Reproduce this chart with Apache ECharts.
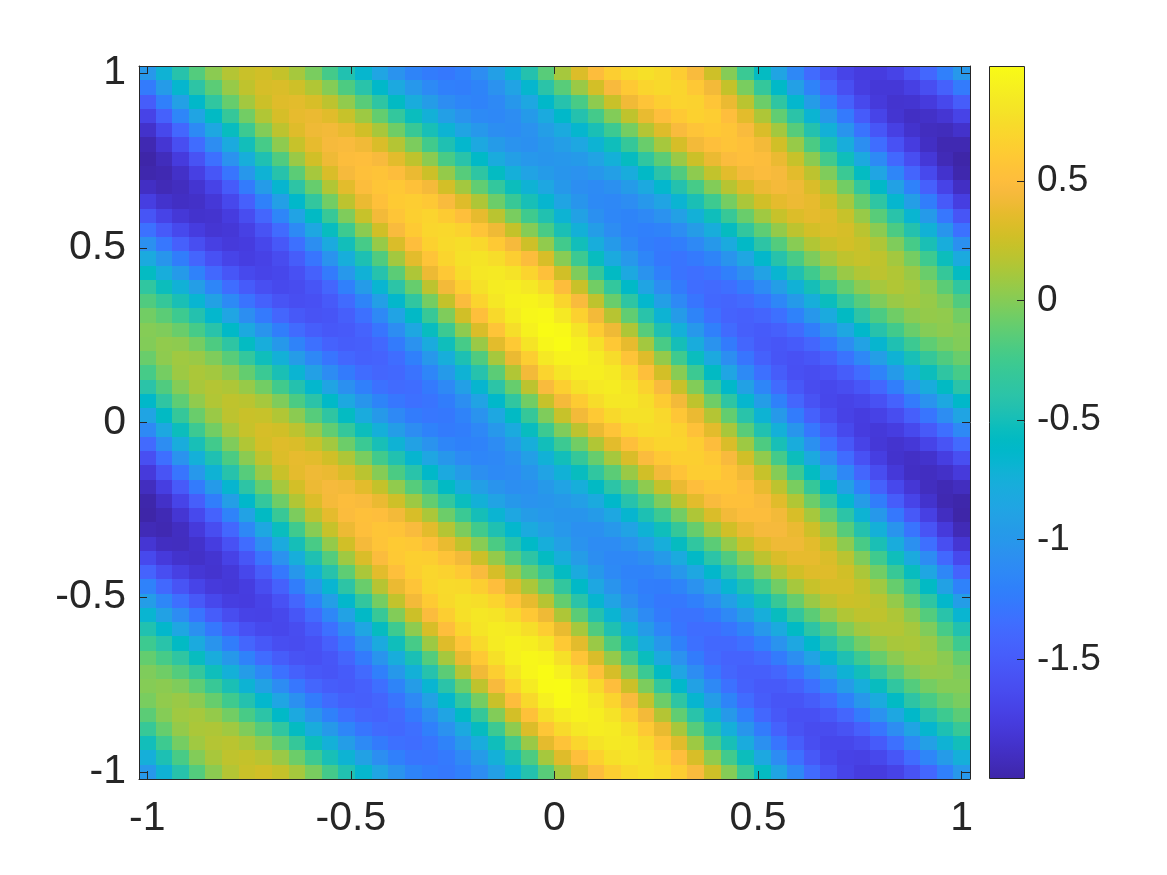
<!DOCTYPE html>
<html>
<head>
<meta charset="utf-8">
<title>heatmap</title>
<script src="https://cdn.jsdelivr.net/npm/echarts@6/dist/echarts.min.js"></script>
<style>
	html, body { margin: 0; padding: 0; background: #fff; }
	#chart { width: 1167px; height: 875px; }
</style>
</head>
<body>
<div id="chart"></div>
<script>
const xCenters = [-1,-.9592,-.9184,-.8776,-.8367,-.7959,-.7551,-.7143,-.6735,-.6327,-.5918,-.551,-.5102,-.4694,-.4286,-.3878,-.3469,-.3061,-.2653,-.2245,-.1837,-.1429,-.102,-.0612,-.0204,.0204,.0612,.102,.1429,.1837,.2245,.2653,.3061,.3469,.3878,.4286,.4694,.5102,.551,.5918,.6327,.6735,.7143,.7551,.7959,.8367,.8776,.9184,.9592,1];
const yCenters = [-1,-.9592,-.9184,-.8776,-.8367,-.7959,-.7551,-.7143,-.6735,-.6327,-.5918,-.551,-.5102,-.4694,-.4286,-.3878,-.3469,-.3061,-.2653,-.2245,-.1837,-.1429,-.102,-.0612,-.0204,.0204,.0612,.102,.1429,.1837,.2245,.2653,.3061,.3469,.3878,.4286,.4694,.5102,.551,.5918,.6327,.6735,.7143,.7551,.7959,.8367,.8776,.9184,.9592,1];
const axisTicks = [-1, -0.5, 0, 0.5, 1];
const colorbarTicks = [-1.5, -1, -0.5, 0, 0.5];
const colorMin = -2;
const colorMax = 0.98;

// one row per y, bottom row first, left to right
const zRows = [
	[-1,-.71,-.42,-.17,.02,.16,.24,.27,.22,.11,-.04,-.23,-.45,-.66,-.86,-1.04,-1.17,-1.24,-1.27,-1.21,-1.09,-.92,-.7,-.44,-.15,.11,.32,.5,.64,.73,.77,.73,.63,.47,.26,0,-.28,-.57,-.87,-1.14,-1.37,-1.56,-1.69,-1.76,-1.76,-1.7,-1.57,-1.4,-1.21,-1],
	[-.75,-.47,-.21,-.01,.12,.2,.22,.18,.07,-.08,-.27,-.49,-.7,-.9,-1.08,-1.21,-1.29,-1.3,-1.26,-1.13,-.96,-.74,-.48,-.19,.11,.33,.52,.66,.77,.81,.78,.67,.51,.3,.04,-.24,-.53,-.83,-1.1,-1.33,-1.52,-1.65,-1.71,-1.72,-1.66,-1.54,-1.36,-1.16,-.96,-.75],
	[-.51,-.26,-.05,.09,.16,.18,.13,.03,-.12,-.31,-.53,-.74,-.94,-1.12,-1.25,-1.33,-1.35,-1.29,-1.18,-1,-.78,-.52,-.23,.07,.36,.55,.7,.79,.84,.82,.72,.55,.34,.08,-.2,-.49,-.79,-1.06,-1.29,-1.48,-1.61,-1.67,-1.67,-1.62,-1.5,-1.33,-1.12,-.91,-.71,-.51],
	[-.3,-.1,.05,.13,.14,.09,-.02,-.16,-.35,-.57,-.78,-.98,-1.16,-1.29,-1.37,-1.39,-1.34,-1.21,-1.05,-.82,-.56,-.27,.03,.32,.58,.73,.83,.87,.85,.76,.6,.38,.12,-.16,-.45,-.75,-1.02,-1.25,-1.44,-1.57,-1.63,-1.63,-1.57,-1.46,-1.29,-1.09,-.87,-.66,-.47,-.3],
	[-.14,0,.09,.11,.05,-.06,-.21,-.39,-.61,-.82,-1.02,-1.2,-1.33,-1.41,-1.43,-1.38,-1.26,-1.08,-.87,-.6,-.31,-.01,.28,.54,.76,.86,.91,.88,.79,.64,.43,.16,-.12,-.41,-.71,-.98,-1.21,-1.4,-1.53,-1.59,-1.59,-1.53,-1.41,-1.25,-1.05,-.84,-.62,-.42,-.26,-.14],
	[-.04,.04,.07,.02,-.1,-.25,-.44,-.65,-.86,-1.06,-1.24,-1.37,-1.45,-1.47,-1.42,-1.3,-1.13,-.9,-.65,-.35,-.05,.24,.5,.72,.89,.97,.92,.82,.68,.47,.21,-.08,-.37,-.67,-.94,-1.17,-1.36,-1.49,-1.55,-1.55,-1.49,-1.37,-1.2,-1.01,-.8,-.59,-.38,-.21,-.1,-.04],
	[0,.02,-.02,-.13,-.29,-.48,-.7,-.9,-1.1,-1.28,-1.41,-1.49,-1.51,-1.46,-1.34,-1.17,-.95,-.68,-.4,-.09,.2,.46,.68,.85,.97,.98,.88,.72,.51,.25,-.03,-.33,-.63,-.9,-1.13,-1.32,-1.45,-1.51,-1.51,-1.45,-1.33,-1.16,-.96,-.76,-.55,-.35,-.17,-.05,0,0],
	[-.02,-.07,-.17,-.32,-.52,-.74,-.95,-1.14,-1.32,-1.45,-1.53,-1.55,-1.5,-1.38,-1.21,-.99,-.73,-.43,-.14,.16,.42,.64,.81,.93,.98,.89,.74,.53,.29,.01,-.28,-.59,-.86,-1.09,-1.28,-1.41,-1.47,-1.47,-1.41,-1.29,-1.12,-.92,-.71,-.51,-.31,-.14,-.01,.05,.04,-.02],
	[-.11,-.22,-.36,-.55,-.78,-.99,-1.19,-1.36,-1.49,-1.57,-1.59,-1.54,-1.42,-1.25,-1.03,-.77,-.48,-.17,.11,.38,.6,.77,.89,.94,.92,.77,.57,.31,.05,-.24,-.54,-.82,-1.05,-1.24,-1.37,-1.43,-1.43,-1.37,-1.25,-1.08,-.88,-.67,-.46,-.27,-.1,.02,.09,.09,.02,-.11],
	[-.26,-.41,-.59,-.81,-1.03,-1.23,-1.41,-1.53,-1.61,-1.63,-1.58,-1.46,-1.29,-1.07,-.81,-.52,-.22,.08,.33,.56,.73,.85,.9,.88,.8,.6,.35,.07,-.2,-.5,-.77,-1.01,-1.2,-1.33,-1.39,-1.39,-1.33,-1.21,-1.04,-.84,-.63,-.42,-.22,-.06,.06,.12,.13,.07,-.07,-.26],
	[-.45,-.64,-.85,-1.06,-1.27,-1.45,-1.58,-1.65,-1.67,-1.62,-1.5,-1.33,-1.11,-.85,-.56,-.26,.03,.3,.51,.69,.81,.86,.84,.76,.63,.38,.11,-.18,-.46,-.73,-.96,-1.16,-1.29,-1.35,-1.35,-1.29,-1.17,-1,-.8,-.59,-.38,-.18,-.01,.1,.16,.16,.11,-.02,-.22,-.45],
	[-.68,-.9,-1.1,-1.3,-1.49,-1.62,-1.7,-1.71,-1.66,-1.54,-1.37,-1.15,-.89,-.6,-.3,-.01,.25,.48,.64,.77,.82,.8,.72,.59,.41,.14,-.14,-.44,-.69,-.92,-1.11,-1.25,-1.31,-1.31,-1.25,-1.13,-.96,-.76,-.55,-.34,-.14,.03,.15,.2,.2,.14,.02,-.17,-.41,-.68],
	[-.94,-1.15,-1.34,-1.52,-1.66,-1.74,-1.76,-1.7,-1.58,-1.41,-1.19,-.93,-.64,-.34,-.05,.21,.43,.61,.72,.78,.76,.68,.55,.37,.17,-.11,-.4,-.67,-.88,-1.07,-1.2,-1.27,-1.27,-1.21,-1.09,-.92,-.72,-.51,-.3,-.1,.07,.19,.25,.24,.18,.05,-.13,-.36,-.64,-.94],
	[-1.19,-1.39,-1.56,-1.69,-1.78,-1.8,-1.75,-1.62,-1.45,-1.23,-.97,-.68,-.38,-.09,.17,.39,.56,.69,.73,.72,.64,.51,.33,.13,-.08,-.34,-.61,-.84,-1.03,-1.16,-1.22,-1.23,-1.17,-1.05,-.88,-.68,-.47,-.26,-.06,.11,.23,.29,.29,.22,.09,-.1,-.32,-.59,-.9,-1.19],
	[-1.43,-1.61,-1.73,-1.81,-1.84,-1.79,-1.67,-1.49,-1.27,-1.01,-.72,-.42,-.13,.13,.35,.52,.64,.7,.67,.6,.47,.29,.09,-.12,-.34,-.57,-.8,-.99,-1.12,-1.18,-1.18,-1.13,-1.01,-.84,-.64,-.43,-.22,-.02,.15,.27,.33,.33,.27,.13,-.06,-.29,-.55,-.85,-1.15,-1.43],
	[-1.65,-1.78,-1.85,-1.87,-1.83,-1.71,-1.54,-1.31,-1.05,-.76,-.46,-.17,.09,.31,.48,.6,.65,.64,.55,.43,.25,.05,-.16,-.38,-.57,-.76,-.95,-1.08,-1.14,-1.14,-1.08,-.97,-.8,-.6,-.39,-.18,.02,.19,.31,.37,.37,.31,.18,-.02,-.25,-.52,-.81,-1.1,-1.39,-1.65],
	[-1.82,-1.9,-1.91,-1.86,-1.75,-1.58,-1.36,-1.09,-.8,-.5,-.21,.05,.27,.44,.56,.61,.59,.52,.38,.21,.01,-.2,-.42,-.61,-.76,-.91,-1.04,-1.1,-1.1,-1.04,-.92,-.76,-.56,-.35,-.14,.06,.23,.35,.41,.41,.35,.22,.03,-.21,-.48,-.78,-1.06,-1.34,-1.61,-1.82],
	[-1.94,-1.96,-1.9,-1.78,-1.62,-1.4,-1.14,-.84,-.54,-.25,.01,.23,.4,.52,.57,.55,.47,.35,.16,-.03,-.24,-.46,-.65,-.8,-.91,-1,-1.06,-1.06,-1,-.88,-.71,-.52,-.31,-.1,.1,.27,.39,.45,.45,.39,.26,.07,-.16,-.44,-.74,-1.03,-1.3,-1.56,-1.78,-1.94],
	[-2,-1.95,-1.82,-1.65,-1.44,-1.18,-.89,-.58,-.29,-.03,.19,.36,.48,.53,.51,.43,.3,.13,-.08,-.28,-.5,-.69,-.84,-.95,-1,-1.02,-1.02,-.96,-.84,-.67,-.47,-.27,-.06,.14,.31,.43,.49,.49,.43,.3,.11,-.12,-.39,-.7,-.99,-1.27,-1.52,-1.73,-1.9,-2],
	[-1.99,-1.87,-1.69,-1.47,-1.22,-.93,-.63,-.33,-.07,.15,.32,.44,.49,.47,.39,.26,.08,-.11,-.33,-.54,-.73,-.88,-.99,-1.04,-1.02,-.98,-.92,-.8,-.63,-.43,-.22,-.02,.18,.35,.47,.53,.53,.47,.34,.15,-.08,-.35,-.65,-.95,-1.23,-1.49,-1.69,-1.85,-1.96,-1.99],
	[-1.91,-1.74,-1.51,-1.25,-.97,-.67,-.38,-.11,.11,.28,.4,.45,.43,.35,.22,.04,-.16,-.36,-.59,-.77,-.92,-1.03,-1.08,-1.06,-.98,-.88,-.76,-.59,-.39,-.18,.03,.22,.39,.51,.57,.57,.51,.38,.19,-.04,-.31,-.61,-.9,-1.19,-1.45,-1.66,-1.81,-1.91,-1.95,-1.91],
	[-1.78,-1.56,-1.29,-1,-.71,-.42,-.16,.07,.24,.36,.41,.39,.31,.18,0,-.2,-.41,-.62,-.82,-.96,-1.07,-1.12,-1.1,-1.02,-.88,-.72,-.55,-.35,-.14,.07,.27,.43,.55,.63,.63,.55,.42,.23,0,-.27,-.57,-.86,-1.14,-1.41,-1.62,-1.79,-1.89,-1.9,-1.87,-1.78],
	[-1.6,-1.34,-1.04,-.74,-.46,-.2,.02,.2,.32,.37,.35,.27,.14,-.04,-.24,-.45,-.67,-.85,-1.01,-1.11,-1.16,-1.14,-1.06,-.92,-.72,-.51,-.31,-.1,.11,.31,.48,.59,.65,.65,.59,.46,.27,.04,-.23,-.53,-.82,-1.1,-1.36,-1.58,-1.74,-1.85,-1.88,-1.85,-1.74,-1.6],
	[-1.38,-1.09,-.78,-.49,-.24,-.02,.15,.28,.33,.31,.23,.1,-.08,-.28,-.49,-.71,-.9,-1.04,-1.16,-1.2,-1.18,-1.1,-.96,-.76,-.51,-.27,-.06,.15,.35,.52,.64,.69,.69,.63,.5,.31,.08,-.19,-.49,-.78,-1.06,-1.32,-1.53,-1.7,-1.8,-1.84,-1.8,-1.69,-1.56,-1.38],
	[-1.13,-.83,-.53,-.27,-.06,.11,.23,.29,.27,.19,.06,-.12,-.32,-.53,-.75,-.94,-1.09,-1.19,-1.25,-1.22,-1.14,-1,-.8,-.55,-.27,-.02,.19,.39,.56,.68,.74,.73,.67,.54,.35,.12,-.15,-.45,-.74,-1.02,-1.28,-1.49,-1.65,-1.76,-1.79,-1.75,-1.65,-1.51,-1.34,-1.13],
	[-.87,-.58,-.31,-.09,.07,.19,.24,.23,.15,.02,-.16,-.36,-.57,-.79,-.98,-1.13,-1.24,-1.28,-1.27,-1.18,-1.04,-.84,-.59,-.31,-.02,.23,.43,.6,.72,.78,.78,.71,.58,.39,.16,-.11,-.41,-.7,-.98,-1.24,-1.45,-1.61,-1.71,-1.75,-1.71,-1.62,-1.47,-1.29,-1.09,-.87],
	[-.62,-.36,-.13,.04,.15,.2,.18,.11,-.02,-.2,-.4,-.61,-.83,-1.02,-1.17,-1.28,-1.33,-1.3,-1.23,-1.08,-.88,-.63,-.35,-.06,.23,.44,.62,.74,.82,.82,.76,.62,.43,.2,-.07,-.37,-.66,-.94,-1.2,-1.41,-1.57,-1.67,-1.7,-1.67,-1.58,-1.44,-1.25,-1.04,-.83,-.62],
	[-.4,-.18,0,.12,.16,.14,.06,-.06,-.24,-.44,-.65,-.87,-1.06,-1.21,-1.32,-1.37,-1.35,-1.26,-1.13,-.92,-.67,-.39,-.1,.19,.47,.65,.78,.84,.86,.8,.67,.47,.24,-.01,-.33,-.62,-.9,-1.16,-1.37,-1.53,-1.63,-1.66,-1.62,-1.54,-1.4,-1.22,-1,-.78,-.58,-.4],
	[-.22,-.05,.08,.13,.1,.02,-.11,-.28,-.48,-.69,-.91,-1.1,-1.25,-1.36,-1.41,-1.39,-1.31,-1.16,-.97,-.71,-.43,-.14,.15,.43,.68,.81,.88,.88,.84,.71,.52,.28,.01,-.27,-.58,-.86,-1.12,-1.33,-1.49,-1.59,-1.62,-1.58,-1.49,-1.36,-1.18,-.97,-.74,-.53,-.36,-.22],
	[-.09,.03,.09,.07,-.02,-.15,-.33,-.52,-.73,-.95,-1.14,-1.29,-1.4,-1.45,-1.43,-1.35,-1.21,-1,-.76,-.47,-.18,.11,.39,.64,.84,.91,.92,.86,.74,.56,.33,.05,-.25,-.54,-.82,-1.08,-1.29,-1.45,-1.55,-1.58,-1.54,-1.45,-1.31,-1.14,-.93,-.71,-.49,-.31,-.18,-.09],
	[-.01,.04,.03,-.05,-.19,-.37,-.57,-.77,-.99,-1.18,-1.33,-1.44,-1.49,-1.47,-1.39,-1.25,-1.05,-.79,-.52,-.22,.07,.35,.6,.8,.94,.98,.9,.77,.59,.37,.1,-.21,-.5,-.78,-1.04,-1.25,-1.41,-1.51,-1.54,-1.5,-1.41,-1.27,-1.09,-.89,-.67,-.46,-.27,-.13,-.05,-.01],
	[0,-.02,-.09,-.22,-.41,-.61,-.82,-1.03,-1.22,-1.37,-1.48,-1.53,-1.51,-1.43,-1.29,-1.09,-.84,-.55,-.27,.03,.31,.56,.76,.9,.98,.96,.81,.62,.41,.14,-.16,-.46,-.74,-1,-1.21,-1.37,-1.47,-1.5,-1.46,-1.37,-1.23,-1.05,-.84,-.63,-.42,-.24,-.09,0,.03,0],
	[-.06,-.14,-.26,-.44,-.65,-.86,-1.08,-1.26,-1.41,-1.52,-1.57,-1.55,-1.47,-1.33,-1.13,-.88,-.6,-.3,-.02,.27,.52,.72,.86,.94,.96,.84,.66,.43,.17,-.12,-.41,-.7,-.96,-1.17,-1.33,-1.43,-1.46,-1.42,-1.33,-1.19,-1.01,-.8,-.58,-.38,-.2,-.07,.02,.05,.04,-.06],
	[-.18,-.31,-.48,-.68,-.9,-1.12,-1.31,-1.45,-1.56,-1.61,-1.59,-1.51,-1.37,-1.17,-.92,-.64,-.35,-.05,.22,.48,.68,.82,.9,.92,.87,.69,.47,.2,-.09,-.37,-.65,-.92,-1.13,-1.29,-1.39,-1.42,-1.38,-1.29,-1.15,-.97,-.76,-.54,-.33,-.16,-.02,.07,.1,.06,-.02,-.18],
	[-.35,-.53,-.72,-.93,-1.16,-1.35,-1.5,-1.6,-1.65,-1.63,-1.55,-1.41,-1.21,-.96,-.68,-.39,-.1,.19,.43,.64,.78,.86,.88,.83,.72,.5,.24,-.06,-.33,-.61,-.87,-1.09,-1.25,-1.35,-1.38,-1.34,-1.25,-1.11,-.93,-.72,-.5,-.29,-.11,.02,.11,.15,.11,.03,-.14,-.35],
	[-.57,-.77,-.97,-1.19,-1.39,-1.54,-1.65,-1.69,-1.67,-1.59,-1.45,-1.25,-1,-.72,-.43,-.14,.14,.4,.59,.74,.82,.84,.79,.68,.53,.27,-.02,-.31,-.58,-.83,-1.04,-1.21,-1.31,-1.34,-1.3,-1.21,-1.07,-.89,-.68,-.46,-.25,-.07,.07,.15,.19,.15,.07,-.09,-.31,-.57],
	[-.81,-1.02,-1.23,-1.42,-1.58,-1.69,-1.74,-1.71,-1.63,-1.49,-1.29,-1.04,-.76,-.47,-.18,.1,.35,.56,.69,.78,.8,.75,.64,.49,.3,.01,-.27,-.55,-.8,-1,-1.16,-1.27,-1.3,-1.26,-1.17,-1.03,-.85,-.64,-.42,-.21,-.03,.11,.2,.23,.2,.1,-.05,-.26,-.53,-.81],
	[-1.06,-1.28,-1.46,-1.61,-1.73,-1.78,-1.76,-1.67,-1.53,-1.33,-1.08,-.8,-.51,-.22,.06,.31,.51,.66,.73,.76,.71,.6,.45,.26,.04,-.24,-.51,-.77,-.97,-1.12,-1.22,-1.26,-1.22,-1.13,-.99,-.81,-.6,-.38,-.17,.01,.15,.24,.28,.24,.14,-.02,-.22,-.48,-.77,-1.06],
	[-1.32,-1.51,-1.65,-1.76,-1.82,-1.8,-1.72,-1.57,-1.37,-1.12,-.84,-.55,-.26,.02,.27,.47,.61,.7,.71,.67,.56,.41,.22,0,-.21,-.48,-.73,-.94,-1.09,-1.18,-1.21,-1.18,-1.09,-.95,-.77,-.56,-.34,-.13,.05,.19,.28,.32,.29,.18,.02,-.2,-.44,-.72,-1.02,-1.32],
	[-1.55,-1.7,-1.8,-1.85,-1.84,-1.76,-1.62,-1.41,-1.16,-.88,-.59,-.3,-.02,.23,.43,.57,.65,.68,.62,.52,.37,.18,-.04,-.25,-.45,-.7,-.9,-1.06,-1.15,-1.17,-1.13,-1.05,-.91,-.73,-.52,-.3,-.09,.09,.23,.32,.36,.33,.23,.06,-.15,-.41,-.68,-.97,-1.28,-1.55],
	[-1.74,-1.85,-1.89,-1.87,-1.8,-1.66,-1.46,-1.2,-.92,-.63,-.34,-.06,.19,.39,.53,.61,.63,.59,.47,.33,.14,-.08,-.29,-.49,-.67,-.87,-1.02,-1.12,-1.14,-1.09,-1,-.87,-.69,-.48,-.26,-.05,.13,.27,.36,.4,.37,.27,.11,-.11,-.37,-.66,-.93,-1.23,-1.51,-1.74],
	[-1.89,-1.94,-1.91,-1.83,-1.7,-1.5,-1.25,-.96,-.67,-.38,-.1,.15,.35,.49,.57,.59,.54,.44,.28,.1,-.12,-.33,-.53,-.71,-.84,-.99,-1.08,-1.11,-1.06,-.96,-.82,-.65,-.44,-.22,-.01,.17,.31,.4,.44,.41,.31,.15,-.06,-.33,-.61,-.9,-1.19,-1.46,-1.7,-1.89],
	[-1.98,-1.96,-1.87,-1.73,-1.54,-1.29,-1.01,-.71,-.42,-.14,.11,.31,.45,.53,.55,.5,.39,.25,.05,-.16,-.37,-.57,-.75,-.88,-.96,-1.02,-1.05,-1.01,-.92,-.78,-.6,-.4,-.18,.03,.21,.35,.44,.48,.45,.35,.19,-.02,-.28,-.57,-.86,-1.16,-1.42,-1.65,-1.85,-1.98],
	[-2,-1.92,-1.77,-1.57,-1.33,-1.05,-.76,-.46,-.18,.07,.27,.41,.49,.51,.46,.35,.2,.02,-.21,-.41,-.61,-.79,-.92,-1,-1.02,-1.01,-.97,-.88,-.74,-.56,-.35,-.14,.07,.25,.39,.48,.52,.49,.39,.23,.02,-.24,-.52,-.82,-1.12,-1.39,-1.61,-1.8,-1.94,-2],
	[-1.96,-1.82,-1.61,-1.36,-1.09,-.8,-.51,-.22,.03,.23,.37,.45,.47,.42,.31,.16,-.03,-.24,-.46,-.65,-.83,-.96,-1.04,-1.06,-1.01,-.93,-.84,-.7,-.52,-.31,-.09,.11,.29,.43,.52,.56,.53,.43,.27,.06,-.2,-.48,-.77,-1.08,-1.35,-1.58,-1.76,-1.89,-1.96,-1.96],
	[-1.86,-1.66,-1.4,-1.12,-.84,-.55,-.27,-.01,.19,.33,.41,.43,.38,.27,.12,-.07,-.29,-.49,-.7,-.87,-1,-1.08,-1.1,-1.05,-.93,-.8,-.66,-.48,-.27,-.05,.16,.33,.47,.56,.6,.57,.47,.31,.1,-.16,-.44,-.73,-1.03,-1.31,-1.54,-1.73,-1.85,-1.91,-1.92,-1.86],
	[-1.7,-1.45,-1.16,-.87,-.59,-.31,-.06,.15,.29,.37,.39,.34,.23,.08,-.11,-.33,-.54,-.73,-.92,-1.04,-1.12,-1.14,-1.09,-.97,-.8,-.62,-.44,-.23,-.01,.2,.38,.51,.6,.66,.63,.51,.35,.14,-.12,-.4,-.69,-.99,-1.26,-1.5,-1.69,-1.83,-1.89,-1.87,-1.82,-1.7],
	[-1.49,-1.21,-.91,-.62,-.35,-.1,.1,.25,.33,.35,.3,.19,.04,-.15,-.37,-.58,-.78,-.95,-1.09,-1.16,-1.18,-1.13,-1.01,-.84,-.62,-.43,-.21,.03,.24,.42,.56,.64,.68,.67,.57,.39,.18,-.08,-.36,-.65,-.95,-1.22,-1.45,-1.65,-1.78,-1.84,-1.83,-1.77,-1.66,-1.49],
	[-1.25,-.96,-.66,-.38,-.14,.06,.2,.29,.31,.26,.15,0,-.19,-.41,-.62,-.82,-1,-1.12,-1.21,-1.22,-1.17,-1.05,-.88,-.66,-.4,-.15,.07,.28,.46,.6,.69,.72,.69,.59,.43,.22,-.04,-.32,-.61,-.91,-1.18,-1.41,-1.6,-1.74,-1.8,-1.8,-1.73,-1.61,-1.45,-1.25],
	[-1,-.71,-.42,-.17,.02,.16,.24,.27,.22,.11,-.04,-.23,-.45,-.66,-.86,-1.04,-1.17,-1.24,-1.27,-1.21,-1.09,-.92,-.7,-.44,-.15,.11,.32,.5,.64,.73,.77,.73,.63,.47,.26,0,-.28,-.57,-.87,-1.14,-1.37,-1.56,-1.69,-1.76,-1.76,-1.7,-1.57,-1.4,-1.21,-1]
];

// parula, 64 steps
const parula = [
	[.2422,.1504,.6603],[.2504,.165,.7076],[.2578,.1818,.7511],[.2647,.1978,.7952],[.2706,.2147,.8364],[.2751,.2342,.871],[.2783,.2559,.8991],[.2803,.2782,.9221],
	[.2813,.3006,.9414],[.281,.3228,.9579],[.2795,.3447,.9717],[.276,.3667,.9829],[.2699,.3892,.9906],[.2602,.4123,.9952],[.244,.4358,.9988],[.2206,.4603,.9973],
	[.1963,.4847,.9892],[.1834,.5074,.9798],[.1786,.5289,.9682],[.1764,.5499,.952],[.1687,.5703,.9359],[.154,.5902,.9218],[.146,.6091,.9079],[.138,.6276,.8973],
	[.1248,.6459,.8883],[.1113,.6635,.8763],[.0952,.6798,.8598],[.0689,.6948,.8394],[.0297,.7082,.8163],[.0036,.7203,.7917],[.0067,.7312,.766],[.0433,.7411,.7394],
	[.0964,.75,.712],[.1408,.7584,.6842],[.1717,.767,.6554],[.1938,.7758,.6251],[.2161,.7843,.5923],[.247,.7918,.5567],[.2906,.7973,.5188],[.3406,.8008,.4789],
	[.3909,.8029,.4354],[.4456,.8024,.3909],[.5044,.7993,.348],[.5616,.7942,.3045],[.6174,.7876,.2612],[.672,.7793,.2227],[.7242,.7698,.191],[.7738,.7598,.1646],
	[.8203,.7498,.1535],[.8634,.7406,.1596],[.9035,.733,.1774],[.9393,.7288,.21],[.9728,.7298,.2394],[.9956,.7434,.2371],[.997,.7659,.2199],[.9952,.7893,.2028],
	[.9892,.8136,.1885],[.9786,.8386,.1766],[.9676,.8639,.1643],[.961,.889,.1537],[.9597,.9135,.1423],[.9628,.9373,.1265],[.9691,.9606,.1064],[.9769,.9839,.0805]
];
const parulaColors = parula.map(c => `rgb(${c.map(v => Math.round(v * 255)).join(",")})`);

const textColor = "#262626";
const labelFont = { color: textColor, fontFamily: "Liberation Sans", fontSize: 41 };
const colorbarFont = { color: textColor, fontFamily: "Liberation Sans", fontSize: 37 };
const halfCell = 1 / 49;

const cells = [];
yCenters.forEach((y, row) => {
	xCenters.forEach((x, col) => {
		cells.push([x, y, zRows[row][col]]);
	});
});

function renderCell(params, api) {
	const p0 = api.coord([api.value(0) - halfCell, api.value(1) - halfCell]);
	const p1 = api.coord([api.value(0) + halfCell, api.value(1) + halfCell]);
	const x0 = Math.round(p0[0]);
	const y1 = Math.round(p1[1]);
	return {
		type: "rect",
		shape: { x: x0, y: y1, width: Math.round(p1[0]) - x0, height: Math.round(p0[1]) - y1 },
		style: { fill: api.visual("color") }
	};
}

function renderColorbar(params, api) {
	const p0 = api.coord([0, colorMin]);
	const p1 = api.coord([1, colorMax]);
	const stops = parulaColors.map((color, i) => ({ offset: i / (parulaColors.length - 1), color: color }));
	return {
		type: "rect",
		shape: { x: p0[0] + 0.5, y: p1[1] + 0.5, width: p1[0] - p0[0] - 1, height: p0[1] - p1[1] - 1 },
		style: {
			fill: new echarts.graphic.LinearGradient(0, 1, 0, 0, stops),
			stroke: textColor,
			lineWidth: 1
		}
	};
}

function mainAxis(position, labels) {
	return {
		type: "value",
		gridIndex: 0,
		position: position,
		min: -1 - halfCell,
		max: 1 + halfCell,
		z: 5,
		splitLine: { show: false },
		axisLine: { show: true, onZero: false, lineStyle: { color: textColor, width: 1 } },
		axisTick: { show: true, inside: true, length: 8, customValues: axisTicks, lineStyle: { color: textColor, width: 1 } },
		axisLabel: labels ? { show: true, customValues: axisTicks, ...labelFont, ...labels } : { show: false }
	};
}

const chart = echarts.init(document.getElementById("chart"));
chart.setOption({
	animation: false,
	backgroundColor: "#fff",
	grid: [
		{ left: 139, top: 66, width: 831, height: 713 },
		{ left: 989, top: 66, width: 36, height: 713 }
	],
	xAxis: [
		mainAxis("bottom", { margin: 19 }),
		mainAxis("top", null),
		{ type: "value", gridIndex: 1, min: 0, max: 1, show: false }
	],
	yAxis: [
		mainAxis("left", { margin: 13, padding: [10, 0, 0, 0] }),
		mainAxis("right", null),
		{
			type: "value",
			gridIndex: 1,
			position: "right",
			min: colorMin,
			max: colorMax,
			z: 5,
			splitLine: { show: false },
			axisLine: { show: false, onZero: false },
			axisTick: { show: true, inside: true, length: 8, customValues: colorbarTicks, lineStyle: { color: textColor, width: 1 } },
			axisLabel: { show: true, customValues: colorbarTicks, margin: 12, padding: [9, 0, 0, 0], ...colorbarFont }
		}
	],
	visualMap: {
		show: false,
		type: "continuous",
		seriesIndex: 0,
		dimension: 2,
		min: colorMin,
		max: colorMax,
		inRange: { color: parulaColors }
	},
	series: [
		{
			type: "custom",
			xAxisIndex: 0,
			yAxisIndex: 0,
			renderItem: renderCell,
			encode: { x: 0, y: 1 },
			data: cells
		},
		{
			type: "custom",
			xAxisIndex: 2,
			yAxisIndex: 2,
			renderItem: renderColorbar,
			encode: { x: 0, y: 1 },
			clip: false,
			data: [[0, colorMin]]
		}
	]
});
</script>
</body>
</html>
